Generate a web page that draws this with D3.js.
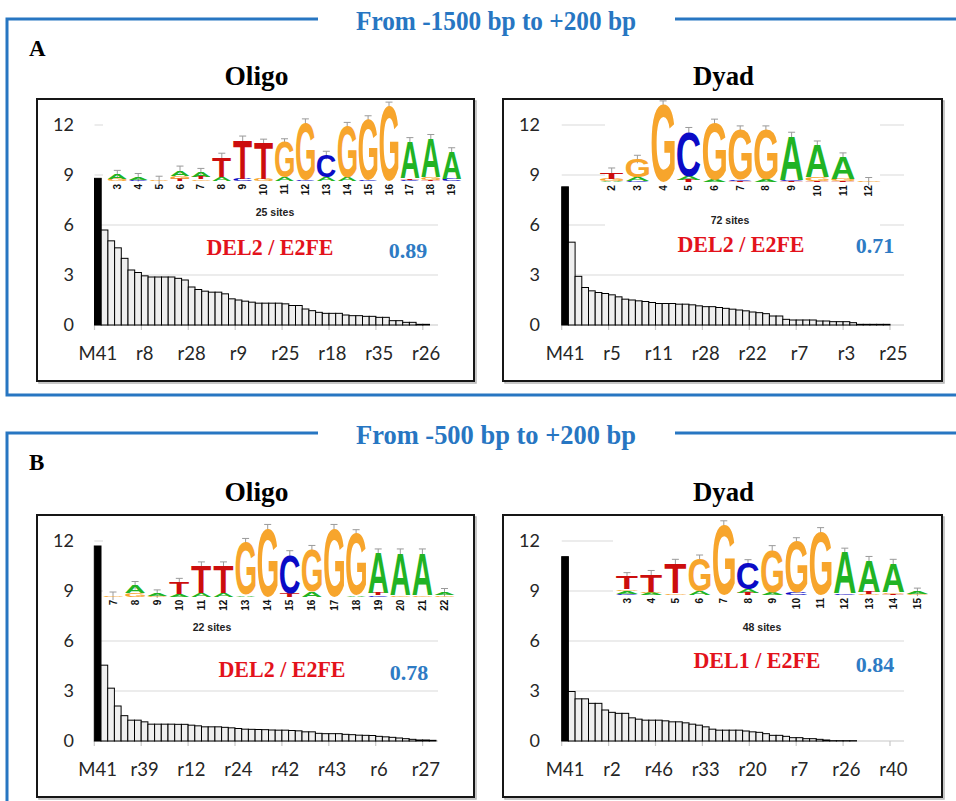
<!DOCTYPE html>
<html>
<head>
<meta charset="utf-8">
<script src="https://cdn.jsdelivr.net/npm/d3@7"></script>
<style>
  body { margin: 0; background: #fff; }
  svg { display: block; }
</style>
</head>
<body>
<svg id="fig"></svg>
<script>
// ---- bar values (sorted motif scores) ----
const oligoA = [8.8, 5.7, 5.05, 4.63, 4.0, 3.3, 3.15, 2.95, 2.88, 2.88,
  2.88, 2.88, 2.8, 2.7, 2.28, 2.13, 2.03, 1.97, 1.97, 1.87,
  1.57, 1.5, 1.43, 1.37, 1.31, 1.31, 1.31, 1.31, 1.27, 1.17,
  1.17, 0.96, 0.86, 0.76, 0.7, 0.7, 0.7, 0.6, 0.56, 0.56,
  0.52, 0.52, 0.46, 0.46, 0.26, 0.26, 0.16, 0.16, 0.04, 0.04];
const dyadA = [8.29, 4.97, 2.92, 2.25, 2.05, 1.95, 1.89, 1.81, 1.69, 1.55,
  1.5, 1.45, 1.41, 1.35, 1.29, 1.29, 1.29, 1.25, 1.25, 1.21,
  1.15, 1.1, 1.1, 1.05, 1.0, 0.95, 0.9, 0.85, 0.78, 0.74,
  0.68, 0.54, 0.54, 0.34, 0.3, 0.3, 0.3, 0.3, 0.24, 0.24,
  0.2, 0.2, 0.2, 0.14, 0.04, 0.04, 0.04, 0.04, 0.04, 0];
const oligoB = [11.7, 4.55, 3.17, 2.1, 1.52, 1.25, 1.25, 1.15, 1.01, 1.01,
  1.01, 1.01, 1.0, 1.0, 0.95, 0.91, 0.85, 0.85, 0.85, 0.82,
  0.79, 0.75, 0.71, 0.7, 0.69, 0.68, 0.66, 0.65, 0.65, 0.63,
  0.61, 0.55, 0.55, 0.46, 0.44, 0.44, 0.44, 0.4, 0.38, 0.35,
  0.34, 0.33, 0.28, 0.25, 0.22, 0.18, 0.14, 0.1, 0.06, 0.06, 0.04];
const dyadB = [11.06, 2.97, 2.53, 2.53, 2.26, 2.26, 1.86, 1.72, 1.66, 1.66,
  1.39, 1.31, 1.25, 1.25, 1.25, 1.21, 1.15, 1.15, 1.09, 1.01,
  0.95, 0.85, 0.71, 0.65, 0.65, 0.65, 0.65, 0.6, 0.55, 0.52,
  0.44, 0.34, 0.34, 0.28, 0.2, 0.2, 0.14, 0.14, 0.1, 0.06,
  0.02, 0.02, 0.02, 0.02, 0, 0, 0, 0, 0, 0];

// ---- x tick labels (every 7th category) ----
const labOligoA = ["M41", "r8", "r28", "r9", "r25", "r18", "r35", "r26"];
const labDyadA  = ["M41", "r5", "r11", "r28", "r22", "r7", "r3", "r25"];
const labOligoB = ["M41", "r39", "r12", "r24", "r42", "r43", "r6", "r27"];
const labDyadB  = ["M41", "r2", "r46", "r33", "r20", "r7", "r26", "r40"];
const yTicks = [0, 3, 6, 9, 12];

// ---- sequence logos: per position, letters bottom -> top with height in bits ----
const posOligoA = [3, 4, 5, 6, 7, 8, 9, 10, 11, 12, 13, 14, 15, 16, 17, 18, 19];
const logoOligoA = [
  [["G",0.05],["A",0.12]],
  [["C",0.02],["A",0.07]],
  [["G",0.02]],
  [["T",0.06],["G",0.08],["A",0.14]],
  [["G",0.04],["T",0.05],["A",0.13]],
  [["A",0.1],["T",0.51]],
  [["C",0.05],["T",1.0]],
  [["G",0.05],["T",0.92]],
  [["A",0.08],["G",0.9]],
  [["C",0.04],["G",1.45]],
  [["A",0.1],["C",0.56]],
  [["A",0.08],["G",1.32]],
  [["C",0.03],["G",1.54]],
  [["G",1.92]],
  [["C",0.03],["T",0.04],["A",0.94]],
  [["T",0.03],["G",0.06],["A",1.0]],
  [["C",0.05],["A",0.7]]
];
const posDyadA = [2, 3, 4, 5, 6, 7, 8, 9, 10, 11, 12];
const logoDyadA = [
  [["A",0.04],["G",0.05],["T",0.17]],
  [["C",0.04],["A",0.08],["G",0.46]],
  [["G",1.95]],
  [["T",0.05],["A",0.1],["C",1.13]],
  [["A",0.06],["G",1.43]],
  [["T",0.04],["C",0.03],["G",1.25]],
  [["A",0.06],["G",1.26]],
  [["T",0.03],["C",0.03],["A",1.1]],
  [["T",0.04],["G",0.1],["A",0.8]],
  [["T",0.04],["G",0.05],["A",0.55]],
  [["G",0.02]]
];
const posOligoB = [7, 8, 9, 10, 11, 12, 13, 14, 15, 16, 17, 18, 19, 20, 21, 22];
const logoOligoB = [
  [["G",0.02]],
  [["G",0.12],["A",0.2]],
  [["G",0.02],["A",0.06]],
  [["A",0.08],["T",0.33]],
  [["A",0.1],["T",0.78]],
  [["A",0.1],["T",0.78]],
  [["A",0.05],["G",1.5]],
  [["G",1.95]],
  [["T",0.1],["C",1.1]],
  [["A",0.15],["G",1.2]],
  [["G",1.95]],
  [["A",0.05],["G",1.75]],
  [["C",0.04],["T",0.06],["A",1.15]],
  [["G",0.05],["A",1.2]],
  [["G",0.05],["A",1.2]],
  [["G",0.04],["A",0.08]]
];
const posDyadB = [3, 4, 5, 6, 7, 8, 9, 10, 11, 12, 13, 14, 15];
const logoDyadB = [
  [["C",0.04],["A",0.08],["G",0.04],["T",0.35]],
  [["A",0.06],["G",0.03],["T",0.48]],
  [["G",0.05],["T",0.83]],
  [["A",0.1],["G",0.9]],
  [["G",1.95]],
  [["T",0.05],["A",0.1],["C",0.72]],
  [["A",0.08],["G",1.18]],
  [["C",0.06],["G",1.42]],
  [["G",1.76]],
  [["C",0.05],["A",1.14]],
  [["G",0.03],["T",0.05],["A",0.88]],
  [["T",0.03],["G",0.05],["A",0.8]],
  [["G",0.03],["A",0.05]]
];

// ---- page layout ----
const W = 956, H = 801;
const BLUE = "#2776c2";
const SERIF = "'Liberation Serif', 'Times New Roman', serif";
const SANS = "Lato, 'Open Sans', sans-serif";
const LOGOFONT = "'Liberation Sans', Arial, sans-serif";
const letterColor = { A: "#21b324", C: "#0b0bc6", G: "#f7a52c", T: "#cc0d0d" };

const svg = d3.select("#fig").attr("width", W).attr("height", H);

// glyph bounds for stretching logo letters
const ctx = document.createElement("canvas").getContext("2d");
ctx.font = "bold 100px " + LOGOFONT;
const glyph = {};
["A", "C", "G", "T"].forEach(L => {
    const m = ctx.measureText(L);
    glyph[L] = { l: m.actualBoundingBoxLeft, r: m.actualBoundingBoxRight,
                 a: m.actualBoundingBoxAscent, d: m.actualBoundingBoxDescent };
});

function drawLetter(g, L, x, y, w, h) {
    if (h < 0.4) return;
    const m = glyph[L];
    g.append("text")
        .text(L)
        .attr("font-family", LOGOFONT)
        .attr("font-weight", "bold")
        .attr("font-size", 100)
        .attr("fill", letterColor[L])
        .attr("transform", `translate(${x},${y}) scale(${w / (m.l + m.r)},${h / (m.a + m.d)}) translate(${m.l},${m.a})`);
}

// ---- blue section frames ----
function section(top, bottom, title, letter) {
    svg.append("path")
        .attr("d", `M318,${top} H7 V${bottom}` + (bottom < H ? ` H${W}` : "") + ` M675,${top} H${W}`)
        .attr("fill", "none")
        .attr("stroke", BLUE)
        .attr("stroke-width", 3);
    svg.append("text")
        .attr("x", 496).attr("y", top + 11)
        .attr("text-anchor", "middle")
        .attr("font-family", SERIF).attr("font-weight", "bold").attr("font-size", 27)
        .attr("textLength", title.length > 24 ? 290 : 280).attr("lengthAdjust", "spacingAndGlyphs")
        .attr("fill", BLUE)
        .text(title);
    svg.append("text")
        .attr("x", 29).attr("y", top + 37)
        .attr("font-family", SERIF).attr("font-weight", "bold").attr("font-size", 23)
        .text(letter);
}
section(19, 395, "From -1500 bp to +200 bp", "A");
section(433, H + 5, "From -500 bp to +200 bp", "B");

// ---- panels ----
const panels = [
    { x: 37, y: 99, w: 437, title: "Oligo", vals: oligoA, labels: labOligoA, x0: 57.5,
      pos: posOligoA, logo: logoOligoA, lx: 80.3, step: 20.9, base: 82, bit: 39,
      rect: [66, 1, 360, 120], sites: "25 sites", sx: 238, sy: 117,
      pair: "DEL2 / E2FE", px: 233, py: 156, score: "0.89", cx: 371, cy: 159 },
    { x: 503, y: 99, w: 439, title: "Dyad", vals: dyadA, labels: labDyadA, x0: 58.7,
      pos: posDyadA, logo: logoDyadA, lx: 108.7, step: 25.7, base: 83.3, bit: 39.7,
      rect: [102, 1, 275, 131], sites: "72 sites", sx: 227, sy: 125,
      pair: "DEL2 / E2FE", px: 238, py: 153, score: "0.71", cx: 372, cy: 154 },
    { x: 37, y: 515, w: 437, title: "Oligo", vals: oligoB, labels: labOligoB, x0: 57.3,
      pos: posOligoB, logo: logoOligoB, lx: 76, step: 22.1, base: 81.7, bit: 35,
      rect: [66, 1, 358, 116], sites: "22 sites", sx: 175, sy: 116,
      pair: "DEL2 / E2FE", px: 245, py: 162, score: "0.78", cx: 372, cy: 165 },
    { x: 503, y: 515, w: 439, title: "Dyad", vals: dyadB, labels: labDyadB, x0: 58.7,
      pos: posDyadB, logo: logoDyadB, lx: 124, step: 24.2, base: 80, bit: 36,
      rect: [110, 1, 322, 116], sites: "48 sites", sx: 259, sy: 116,
      pair: "DEL1 / E2FE", px: 254, py: 153, score: "0.84", cx: 372, cy: 157 }
];

panels.forEach(p => {
    const boxH = 282;
    // panel title
    svg.append("text")
        .attr("x", p.x + p.w / 2 + 1).attr("y", p.y - 14)
        .attr("text-anchor", "middle")
        .attr("font-family", SERIF).attr("font-weight", "bold").attr("font-size", 27)
        .attr("textLength", p.title === "Oligo" ? 64 : 61).attr("lengthAdjust", "spacingAndGlyphs")
        .text(p.title);

    // box with a soft shadow
    svg.append("rect")
        .attr("x", p.x + 2).attr("y", p.y + 2).attr("width", p.w).attr("height", boxH)
        .attr("fill", "none").attr("stroke", "#b5b5b5").attr("stroke-width", 1.5);
    svg.append("rect")
        .attr("x", p.x).attr("y", p.y).attr("width", p.w).attr("height", boxH)
        .attr("fill", "#fff").attr("stroke", "#161616").attr("stroke-width", 2);

    const g = svg.append("g").attr("transform", `translate(${p.x},${p.y})`);

    const xs = d3.scaleLinear().domain([0, 51.3]).range([p.x0, p.x0 + 51.3 * 6.7]);
    const ys = d3.scaleLinear().domain([0, 12]).range([226, 26]);
    const xEnd = 401;

    // grid + axis line
    g.selectAll(".grid")
        .data(yTicks)
        .enter()
        .append("line")
        .attr("x1", p.x0).attr("x2", xEnd)
        .attr("y1", d => ys(d)).attr("y2", d => ys(d))
        .attr("stroke", d => d === 0 ? "#c8c8c8" : "#d9d9d9")
        .attr("stroke-width", 1.2);

    const tickIdx = p.labels.map((d, i) => i * 7);
    g.selectAll(".tick")
        .data(tickIdx)
        .enter()
        .append("line")
        .attr("x1", d => xs(d)).attr("x2", d => xs(d))
        .attr("y1", ys(0)).attr("y2", ys(0) + 5)
        .attr("stroke", "#c8c8c8")
        .attr("stroke-width", 1.2);

    // y labels
    g.selectAll(".ylab")
        .data(yTicks)
        .enter()
        .append("text")
        .attr("x", 37).attr("y", d => ys(d))
        .attr("dy", "0.35em")
        .attr("text-anchor", "end")
        .attr("font-family", SANS).attr("font-size", 18)
        .attr("fill", "#262626")
        .text(d => d);

    // x labels
    g.selectAll(".xlab")
        .data(p.labels)
        .enter()
        .append("text")
        .attr("x", (d, i) => xs(i * 7 + 0.5)).attr("y", 261)
        .attr("text-anchor", "middle")
        .attr("font-family", SANS).attr("font-size", 18.5)
        .attr("fill", "#262626")
        .text(d => d);

    // logo with its white backdrop
    const lg = g.append("g");
    lg.append("rect")
        .attr("x", p.rect[0]).attr("y", p.rect[1]).attr("width", p.rect[2]).attr("height", p.rect[3])
        .attr("fill", "#fff");
    const lw = p.step * 0.9;
    p.logo.forEach((stack, i) => {
        const cx = p.lx + i * p.step;
        let y = p.base;
        stack.forEach(s => { y -= s[1] * p.bit; });
        const top = y;
        // error bar
        lg.append("path")
            .attr("d", `M${cx},${top + 4} V${top - 4} M${cx - 3.5},${top - 4} H${cx + 3.5}`)
            .attr("stroke", "#9a9a9a").attr("stroke-width", 1).attr("fill", "none");
        y = p.base;
        stack.forEach(s => {
            const h = s[1] * p.bit;
            y -= h;
            drawLetter(lg, s[0], cx - lw / 2, y, lw, h);
        });
        lg.append("text")
            .attr("transform", `translate(${cx},${p.base + 3}) rotate(-90)`)
            .attr("text-anchor", "end")
            .attr("dy", "0.35em")
            .attr("font-family", LOGOFONT).attr("font-size", 10).attr("font-weight", "bold")
            .attr("fill", "#111")
            .text(p.pos[i]);
    });
    lg.append("text")
        .attr("x", p.sx).attr("y", p.sy)
        .attr("text-anchor", "middle")
        .attr("font-family", LOGOFONT).attr("font-weight", "bold").attr("font-size", 10.5)
        .attr("fill", "#222")
        .text(p.sites);

    // bars
    g.selectAll(".bar")
        .data(p.vals.map((v, i) => ({ v, i })).filter(d => d.v > 0))
        .enter()
        .append("rect")
        .attr("x", d => xs(d.i))
        .attr("width", d => xs(d.i + 1) - xs(d.i))
        .attr("y", d => ys(d.v))
        .attr("height", d => ys(0) - ys(d.v))
        .attr("fill", d => d.i === 0 ? "#000" : "#efefef")
        .attr("stroke", "#000")
        .attr("stroke-width", 1);

    // motif pair + score
    g.append("text")
        .attr("x", p.px).attr("y", p.py)
        .attr("text-anchor", "middle")
        .attr("font-family", SERIF).attr("font-weight", "bold").attr("font-size", 24)
        .attr("textLength", 127).attr("lengthAdjust", "spacingAndGlyphs")
        .attr("fill", "#e3121b")
        .text(p.pair);
    g.append("text")
        .attr("x", p.cx).attr("y", p.cy)
        .attr("text-anchor", "middle")
        .attr("font-family", SERIF).attr("font-weight", "bold").attr("font-size", 22)
        .attr("fill", "#2e7bc4")
        .text(p.score);
});
</script>
</body>
</html>
